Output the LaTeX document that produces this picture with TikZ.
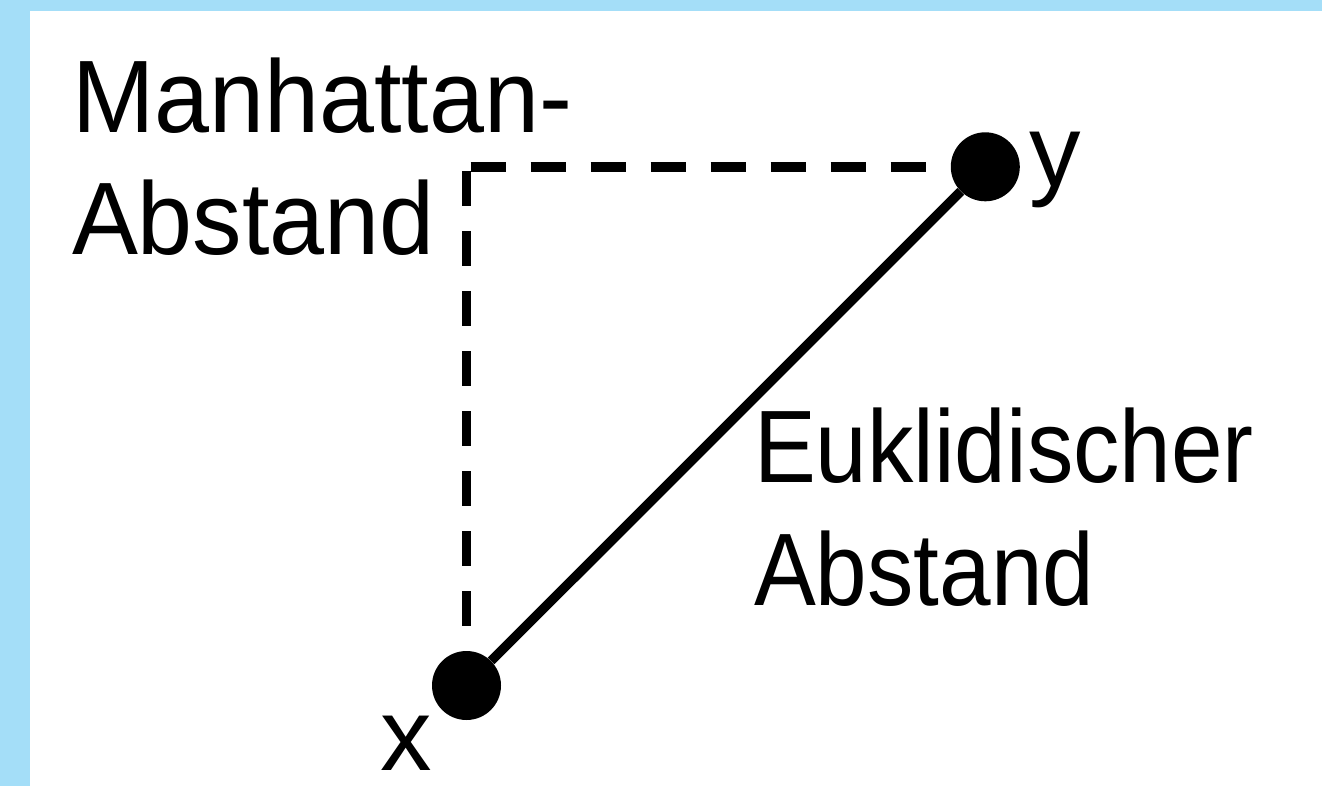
\documentclass[tikz,border=0pt]{standalone}
\usepackage{fontspec}
\setmainfont{Liberation Sans}
\definecolor{frameblue}{RGB}{164,222,248}
\begin{document}
\begin{tikzpicture}[x=1pt,y=-1pt,
  lbl/.style={inner sep=0pt,outer sep=0pt,anchor=base west,align=left,
    font=\fontsize{103}{123}\selectfont},
  dot/.style={circle,fill=black,inner sep=0pt,minimum size=69pt},
  manh/.style={line width=9.5pt,dash pattern=on 35pt off 25pt},
  eukl/.style={line width=9.5pt}]
\useasboundingbox (0,0) rectangle (1322,786);
\fill[frameblue] (0,0) rectangle (1322,786);
\fill[white] (30,11) rectangle (1322,786);
\node[dot] (y) at (985.3,166.8) {};
\node[dot] (x) at (466.5,685.5) {};
\coordinate (h0) at (470.7,166.8);
\coordinate (v0) at (466.5,171);
\draw[manh] (h0) -- (y);
\draw[manh] (v0) -- (x);
\draw[eukl] (x) -- (y);
\node[lbl,xscale=0.96,transform shape] (manlbl) at (72,255) {Manhattan-\\Abstand};
\node[lbl,xscale=0.9,transform shape] (euklbl) at (754,605) {Euklidischer\\Abstand};
\node[lbl] (ylbl) at (1029,187) {y};
\node[lbl] (xlbl) at (380,770) {x};
\end{tikzpicture}
\end{document}
